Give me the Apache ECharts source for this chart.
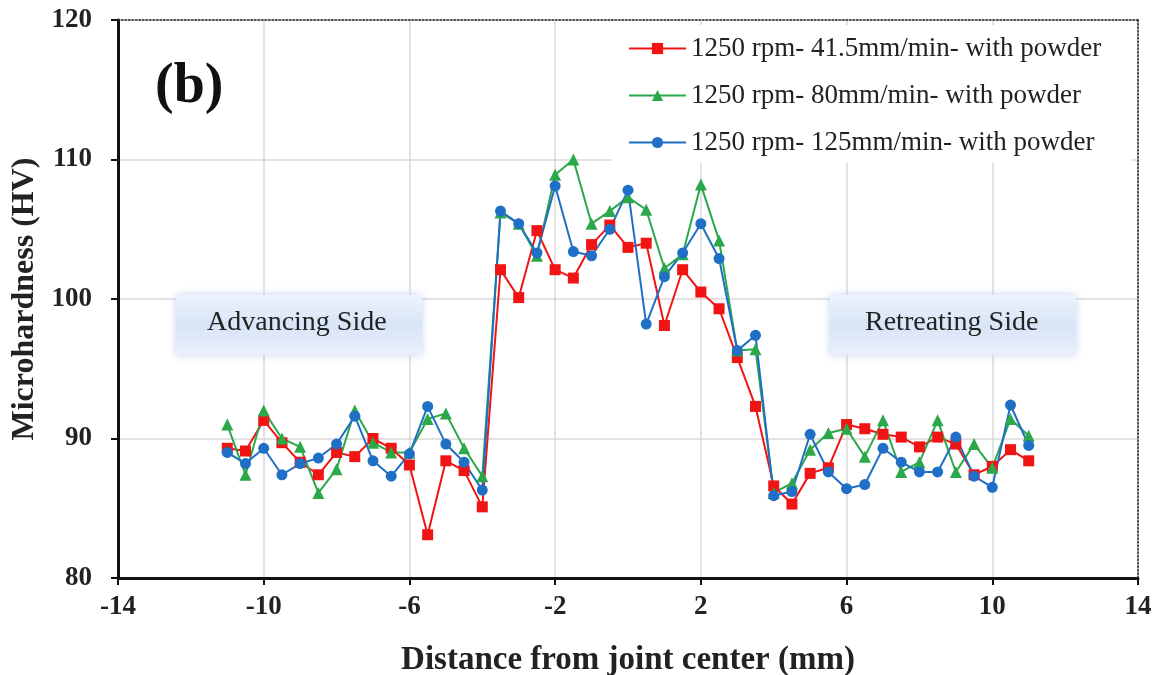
<!DOCTYPE html>
<html>
<head>
<meta charset="utf-8">
<script src="https://cdn.jsdelivr.net/npm/echarts@6/dist/echarts.min.js"></script>
<style>html,body{margin:0;padding:0;background:#fff}#c{width:1163px;height:675px}</style>
</head>
<body>
<div id="c"></div>
<script>
const distances = [-11,-10.5,-10,-9.5,-9,-8.5,-8,-7.5,-7,-6.5,-6,-5.5,-5,-4.5,-4,-3.5,-3,-2.5,-2,-1.5,-1,-0.5,0,0.5,1,1.5,2,2.5,3,3.5,4,4.5,5,5.5,6,6.5,7,7.5,8,8.5,9,9.5,10,10.5,11];
const hv415 = [89.3,89.1,91.3,89.7,88.3,87.4,89.0,88.7,90.0,89.3,88.1,83.1,88.4,87.7,85.1,102.1,100.1,104.9,102.1,101.5,103.9,105.3,103.7,104.0,98.1,102.1,100.5,99.3,95.8,92.3,86.6,85.3,87.5,87.9,91.0,90.7,90.3,90.1,89.4,90.1,89.6,87.4,88.0,89.2,88.4];
const hv80 = [91.0,87.4,92.0,90.0,89.4,86.1,87.8,92.0,89.7,89.0,89.0,91.4,91.8,89.3,87.3,106.2,105.4,103.1,108.9,110.0,105.4,106.3,107.3,106.4,102.2,103.2,108.2,104.2,96.3,96.4,86.1,86.8,89.2,90.4,90.7,88.7,91.3,87.6,88.3,91.3,87.6,89.6,87.9,91.4,90.2];
const hv125 = [89.0,88.2,89.3,87.4,88.2,88.6,89.6,91.6,88.4,87.3,88.9,92.3,89.6,88.3,86.3,106.3,105.4,103.3,108.1,103.4,103.1,105.0,107.8,98.2,101.6,103.3,105.4,102.9,96.3,97.4,85.9,86.2,90.3,87.6,86.4,86.7,89.3,88.3,87.6,87.6,90.1,87.3,86.5,92.4,89.5];
const seriesNames = ['1250 rpm- 41.5mm/min- with powder','1250 rpm- 80mm/min- with powder','1250 rpm- 125mm/min- with powder'];
const xTicks = {min:-14, max:14, interval:4};
const yTicks = {min:80, max:120, interval:10};

const serif = '"Liberation Serif","DejaVu Serif",serif';
const chart = echarts.init(document.getElementById('c'));
const pair = arr => distances.map((d,i)=>[d, arr[i]]);
function mk(name, data, color, symbol, size){
  return {name, type:'line', data:pair(data), symbol, symbolSize:size,
    lineStyle:{color, width:2}, itemStyle:{color}, z:3};
}
const boxFill = {type:'linear',x:0,y:0,x2:0,y2:1,colorStops:[{offset:0,color:'#eef3fc'},{offset:0.5,color:'#d8e4f7'},{offset:1,color:'#e9f0fb'}]};
chart.setOption({
  animation:false,
  backgroundColor:'#fff',
  grid:{left:118, right:25, top:20, bottom:97, containLabel:false, outerBoundsMode:'none'},
  legend:{
    orient:'vertical', left:612, top:25, itemWidth:57, itemHeight:14, itemGap:20,
    backgroundColor:'#fff', padding:[10,30,7,16],
    textStyle:{fontFamily:serif, fontSize:27, color:'#222'},
    data:seriesNames
  },
  xAxis:[{
    type:'value', min:xTicks.min, max:xTicks.max, interval:xTicks.interval,
    name:'Distance from joint center (mm)', nameLocation:'middle', nameGap:66,
    nameTextStyle:{fontFamily:serif, fontSize:33, fontWeight:'bold', color:'#222'},
    axisLine:{onZero:false, lineStyle:{color:'#111', width:3}},
    axisTick:{show:true, length:7, lineStyle:{color:'#111', width:2}},
    axisLabel:{fontFamily:serif, fontSize:27, fontWeight:'bold', color:'#222', margin:16},
    splitLine:{show:true, lineStyle:{color:'#d9d9d9', width:1.5}}
  },{
    type:'value', position:'top', min:xTicks.min, max:xTicks.max,
    axisLine:{show:true, onZero:false, lineStyle:{color:'#222', width:1.5, type:[1.5,2]}},
    axisTick:{show:false}, axisLabel:{show:false}, splitLine:{show:false}
  }],
  yAxis:[{
    type:'value', min:yTicks.min, max:yTicks.max, interval:yTicks.interval,
    name:'Microhardness (HV)', nameLocation:'middle', nameGap:75,
    nameTextStyle:{fontFamily:serif, fontSize:32, fontWeight:'bold', color:'#222'},
    axisLine:{show:true, onZero:false, lineStyle:{color:'#111', width:3}},
    axisTick:{show:true, length:7, lineStyle:{color:'#111', width:2}},
    axisLabel:{fontFamily:serif, fontSize:27, fontWeight:'bold', color:'#222', margin:26},
    splitLine:{show:true, lineStyle:{color:'#d9d9d9', width:1.5}}
  },{
    type:'value', position:'right', min:yTicks.min, max:yTicks.max,
    axisLine:{show:true, onZero:false, lineStyle:{color:'#222', width:1.5, type:[1.5,2]}},
    axisTick:{show:false}, axisLabel:{show:false}, splitLine:{show:false}
  }],
  graphic:[
    {type:'rect', left:176, top:295, shape:{width:246, height:60}, z:1,
      style:{fill:boxFill, shadowBlur:8, shadowColor:'rgba(170,195,235,0.7)'}},
    {type:'text', x:207, y:323, z:2,
      style:{text:'Advancing Side', fontFamily:serif, fontSize:28, fill:'#222', verticalAlign:'middle'}},
    {type:'rect', left:830, top:295, shape:{width:246, height:60}, z:1,
      style:{fill:boxFill, shadowBlur:8, shadowColor:'rgba(170,195,235,0.7)'}},
    {type:'text', x:865, y:323, z:2,
      style:{text:'Retreating Side', fontFamily:serif, fontSize:28, fill:'#222', verticalAlign:'middle'}},
    {type:'text', x:155, y:88, z:2,
      style:{text:'(b)', fontFamily:serif, fontSize:56, fontWeight:'bold', fill:'#111', verticalAlign:'middle'}}
  ],
  series:[
    mk(seriesNames[0], hv415, '#f01414', 'rect', 11),
    mk(seriesNames[1], hv80, '#2ba84a', 'triangle', 12),
    mk(seriesNames[2], hv125, '#1f6fc6', 'circle', 11)
  ]
});
</script>
</body>
</html>
